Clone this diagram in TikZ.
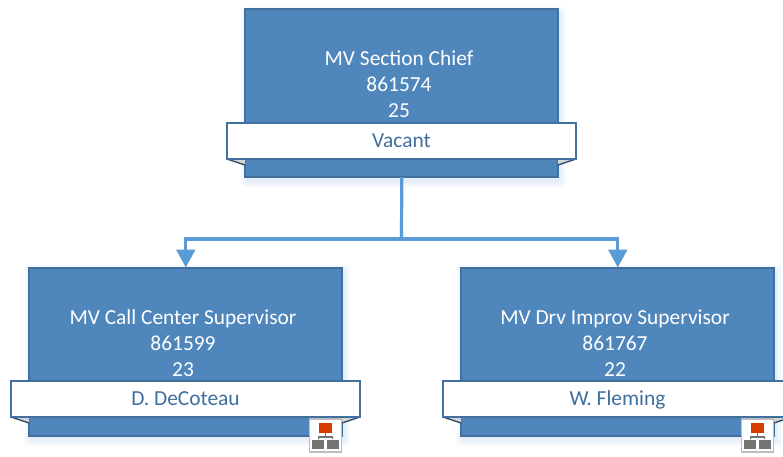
\documentclass[tikz,border=0pt]{standalone}
\usepackage{fontspec}
\setmainfont{Carlito}
\usetikzlibrary{arrows.meta}
\definecolor{boxfill}{HTML}{4F87BC}
\definecolor{boxline}{HTML}{41709F}
\definecolor{wire}{HTML}{5B9BD5}
\definecolor{foldfill}{HTML}{D4D4D4}
\definecolor{folddark}{HTML}{2F4A6B}
\definecolor{labeltext}{HTML}{3F6F9F}
\definecolor{iconred}{HTML}{D83B01}
\definecolor{icongray}{HTML}{737373}
\definecolor{iconedge}{HTML}{BDBDBD}
\newcommand{\softshadow}[4]{%
  \foreach \g/\o in {7/0.025,5.5/0.03,4/0.035,2.5/0.04,1/0.05}{
    \fill[wire,opacity=\o,rounded corners=2] (#1-\g+2,#2-\g+4) rectangle (#3+\g+2,#4+\g+4);
  }}
\newcommand{\foldpair}[4]{%
  \fill[foldfill] (#1,#4) -- (#2,#4) -- (#2,#4+6) -- cycle;
  \draw[folddark,line width=1pt] (#1,#4) -- (#2,#4+6);
  \fill[foldfill] (#3,#4) -- (#3-18,#4) -- (#3-18,#4+6) -- cycle;
  \draw[folddark,line width=1pt] (#3,#4) -- (#3-18,#4+6);
}
\tikzset{
  unitbox/.style={draw=boxline,fill=boxfill,line width=1.5pt,minimum width=313*0.75pt,minimum height=168*0.75pt,inner sep=0pt,outer sep=0pt},
  titletext/.style={text=white,align=center,font=\fontsize{16.05pt}{19.6pt}\selectfont,inner sep=0pt},
  namebox/.style={draw=boxline,fill=white,line width=1.5pt,minimum width=349*0.75pt,minimum height=36*0.75pt,inner sep=0pt,outer sep=0pt,text=labeltext,text height=12pt,text depth=2pt,font=\fontsize{16.05pt}{17pt}\selectfont},
  wireline/.style={draw=wire,line width=2.4pt},
  wirearrow/.style={wireline,-{Triangle[length=13.5pt,width=14pt]}},
  iconframe/.style={draw=iconedge,fill=white,line width=1pt,minimum width=32*0.75pt,minimum height=33*0.75pt,inner sep=0pt},
  iconhead/.style={fill=iconred,inner sep=0pt,minimum width=13*0.75pt,minimum height=10*0.75pt},
  iconsub/.style={fill=icongray,inner sep=0pt,minimum width=12*0.75pt,minimum height=9.5*0.75pt},
  iconwire/.style={draw=icongray,line width=0.9pt}
}
\begin{document}
\begin{tikzpicture}[x=0.75pt,y=-0.75pt]
\useasboundingbox (0,0) rectangle (783,457);
\clip (0,0) rectangle (783,457);
\softshadow{245}{9}{558}{177}
\softshadow{29}{267}{342}{436}
\softshadow{461}{267}{774}{436}

\node[unitbox] (top) at (401.8,93) {};
\node[unitbox] (left) at (185.8,351.5) {};
\node[unitbox] (right) at (617.8,351.5) {};

\coordinate (bus) at (401.5,239);
\draw[wireline] (top.south) -- (bus);
\draw[wirearrow] (bus) -| (left.north);
\draw[wirearrow] (bus) -| (right.north);

\foldpair{227}{245}{576}{159}
\foldpair{11}{29}{360}{417}
\foldpair{443}{461}{792}{417}

\node[titletext] (toptitle) at (399,84.5) {MV Section Chief\\861574\\25};
\node[titletext] (lefttitle) at (183,343) {MV Call Center Supervisor\\861599\\23};
\node[titletext] (righttitle) at (615,343) {MV Drv Improv Supervisor\\861767\\22};

\node[namebox] (topname) at (401.5,141) {Vacant};
\node[namebox] (leftname) at (185.5,399) {D. DeCoteau};
\node[namebox] (rightname) at (617.5,399) {W. Fleming};

\foreach \n/\cx in {a/325.5,b/757.5}{
  \node[iconframe] (frame\n) at (\cx,435.5) {};
  \node[iconhead] (head\n) at (\cx,428) {};
  \node[iconsub] (subl\n) at (\cx-7.25,444.5) {};
  \node[iconsub] (subr\n) at (\cx+7.25,444.5) {};
  \coordinate (mid\n) at (\cx,437);
  \draw[iconwire] (head\n.south) -- (mid\n);
  \draw[iconwire] (subl\n.north) |- (mid\n) -| (subr\n.north);
}
\end{tikzpicture}
\end{document}
